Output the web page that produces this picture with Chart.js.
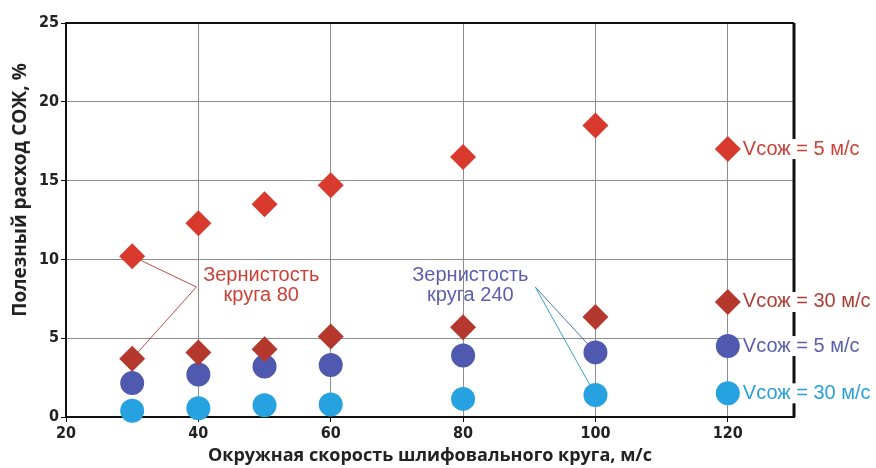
<!DOCTYPE html>
<html>
<head>
<meta charset="utf-8">
<script src="https://cdn.jsdelivr.net/npm/chart.js@4.4.0/dist/chart.umd.min.js"></script>
<style>
  html, body { margin: 0; padding: 0; background: #fff; }
  #wrap { width: 876px; height: 468px; }
</style>
</head>
<body>
<div id="wrap"><canvas id="chart" width="876" height="468"></canvas></div>
<script>
// speeds of the wheel, m/s
const speeds = [30, 40, 50, 60, 80, 100];
// useful coolant consumption, %
const grit80_v5 = [10.2, 12.3, 13.5, 14.7, 16.5, 18.5];
const grit80_v30 = [3.7, 4.1, 4.3, 5.1, 5.7, 6.35];
const grit240_v5 = [2.15, 2.7, 3.2, 3.3, 3.9, 4.1];
const grit240_v30 = [0.4, 0.55, 0.75, 0.8, 1.15, 1.4];

// key markers at the right side
const keyX = 120;
const keyY = [17.0, 7.3, 4.5, 1.5];
const keyLabels = ['Vсож = 5 м/с', 'Vсож = 30 м/с', 'Vсож = 5 м/с', 'Vсож = 30 м/с'];

const xTicks = [20, 40, 60, 80, 100, 120];
const yTicks = [0, 5, 10, 15, 20, 25];

const colors = ['#d83a2d', '#b5382e', '#5059b0', '#27a2e0'];
const textColors = ['#cc4137', '#b23c33', '#5b5fae', '#2b9fdc'];
const styles = ['rectRot', 'rectRot', 'circle', 'circle'];
const radii = [13, 13, 12, 12];

function pts(xs, ys) {
    return xs.map(function (x, i) { return {x: x, y: ys[i]}; });
}

const series = [grit80_v5, grit80_v30, grit240_v5, grit240_v30];
var datasets = [];
series.forEach(function (s, i) {
    datasets.push({
        label: keyLabels[i],
        data: pts(speeds, s).concat([{x: keyX, y: keyY[i]}]),
        pointStyle: styles[i],
        pointRadius: radii[i],
        backgroundColor: colors[i],
        borderColor: colors[i],
        borderWidth: 0,
        clip: false
    });
});

const tickFont = {family: "'Liberation Sans Narrow', 'DejaVu Sans Condensed', Arial", size: 16, weight: 'bold'};
const titleFont = "bold 19px 'Open Sans', 'DejaVu Sans', Arial";
const noteFont = "20px 'Liberation Sans Narrow', 'Liberation Sans', Arial";

const extras = {
    id: 'extras',
    beforeDatasetsDraw: function (chart) {
        var ctx = chart.ctx, xs = chart.scales.x, ys = chart.scales.y;
        // callout lines for grit 80
        ctx.save();
        ctx.lineWidth = 1;
        ctx.strokeStyle = '#b9504a';
        var px = xs.getPixelForValue(39.7), py = ys.getPixelForValue(8.25);
        ctx.beginPath();
        ctx.moveTo(xs.getPixelForValue(speeds[0]), ys.getPixelForValue(grit80_v5[0]));
        ctx.lineTo(px, py);
        ctx.lineTo(xs.getPixelForValue(speeds[0]), ys.getPixelForValue(grit80_v30[0]));
        ctx.stroke();
        // callout lines for grit 240
        var bx = xs.getPixelForValue(90.9), by = ys.getPixelForValue(8.25);
        ctx.strokeStyle = '#4f74a6';
        ctx.beginPath();
        ctx.moveTo(bx, by);
        ctx.lineTo(xs.getPixelForValue(speeds[5]), ys.getPixelForValue(grit240_v5[5]));
        ctx.stroke();
        ctx.strokeStyle = '#3a9fc4';
        ctx.beginPath();
        ctx.moveTo(bx, by);
        ctx.lineTo(xs.getPixelForValue(speeds[5]), ys.getPixelForValue(grit240_v30[5]));
        ctx.stroke();

        // frame top and right
        var a = chart.chartArea;
        ctx.strokeStyle = '#111';
        ctx.lineWidth = 2;
        ctx.beginPath();
        ctx.moveTo(a.left, a.top);
        ctx.lineTo(a.right, a.top);
        ctx.stroke();
        ctx.lineWidth = 3;
        ctx.beginPath();
        ctx.moveTo(a.right, a.top);
        ctx.lineTo(a.right, a.bottom);
        ctx.stroke();
        ctx.restore();
    },
    afterDatasetsDraw: function (chart) {
        var ctx = chart.ctx, xs = chart.scales.x, ys = chart.scales.y;
        ctx.save();
        // key labels
        ctx.font = noteFont;
        ctx.textBaseline = 'middle';
        ctx.textAlign = 'left';
        keyLabels.forEach(function (t, i) {
            var x = xs.getPixelForValue(keyX) + 15;
            var y = ys.getPixelForValue(keyY[i]);
            var w = ctx.measureText(t).width;
            ctx.fillStyle = '#fff';
            ctx.fillRect(x - 1, y - 10, w + 2, 20);
            ctx.fillStyle = textColors[i];
            ctx.fillText(t, x, y);
        });
        // callout texts
        ctx.textAlign = 'center';
        ctx.fillStyle = '#cc4137';
        ctx.fillText('Зернистость', xs.getPixelForValue(49.5), ys.getPixelForValue(9.0));
        ctx.fillText('круга 80', xs.getPixelForValue(49.5), ys.getPixelForValue(7.7));
        ctx.fillStyle = '#5b5fae';
        ctx.fillText('Зернистость', xs.getPixelForValue(81.1), ys.getPixelForValue(9.0));
        ctx.fillText('круга 240', xs.getPixelForValue(81.1), ys.getPixelForValue(7.7));

        // y title
        ctx.font = titleFont;
        ctx.fillStyle = '#222';
        ctx.translate(21, 190);
        ctx.rotate(-Math.PI / 2);
        ctx.textAlign = 'center';
        ctx.fillText('Полезный расход СОЖ, %', 0, 0);
        ctx.restore();
    }
};

var ctx = document.getElementById('chart').getContext('2d');
var myChart = new Chart(ctx, {
    type: 'scatter',
    data: {datasets: datasets},
    options: {
        responsive: false,
        animation: false,
        layout: {padding: {top: 23, right: 82, left: 0, bottom: 0}},
        plugins: {
            legend: {display: false},
            tooltip: {enabled: false}
        },
        scales: {
            x: {
                type: 'linear',
                min: 20,
                max: 130,
                afterFit: function (s) { s.height = 51; },
                afterBuildTicks: function (s) { s.ticks = xTicks.map(function (v) { return {value: v}; }); },
                ticks: {font: tickFont, color: '#222', padding: 2, maxRotation: 0},
                grid: {color: '#8d8d8d', lineWidth: 1, tickLength: 5, tickColor: '#111'},
                border: {color: '#111', width: 2},
                title: {
                    display: true,
                    text: 'Окружная скорость шлифовального круга, м/с',
                    font: {family: "'Open Sans', 'DejaVu Sans', Arial", size: 18, weight: 'bold'},
                    color: '#222',
                    padding: {top: 0, bottom: 1}
                }
            },
            y: {
                min: 0,
                max: 25,
                afterFit: function (s) { s.width = 66; },
                afterBuildTicks: function (s) { s.ticks = yTicks.map(function (v) { return {value: v}; }); },
                ticks: {font: tickFont, color: '#222', padding: 2},
                grid: {color: '#8d8d8d', lineWidth: 1, tickLength: 5, tickColor: '#111'},
                border: {color: '#111', width: 2}
            }
        }
    },
    plugins: [extras]
});
</script>
</body>
</html>
